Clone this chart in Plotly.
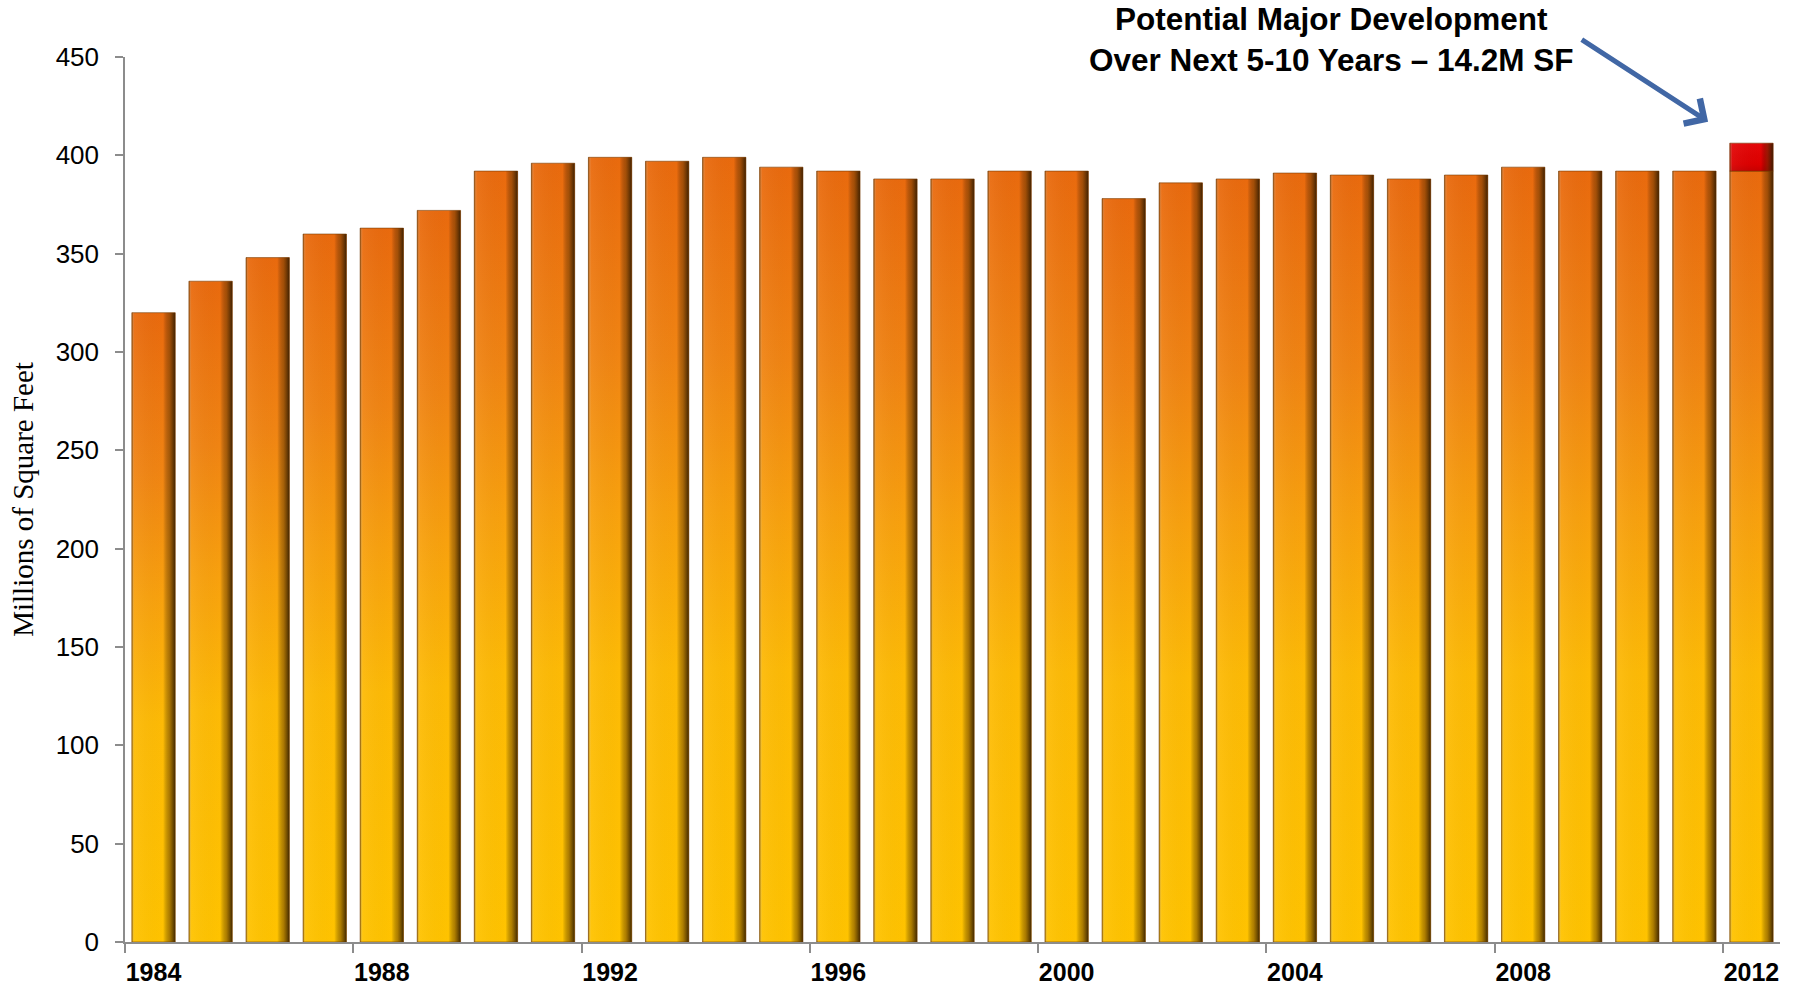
import plotly.graph_objects as go

# Total inventory (millions of square feet) by year
years = list(range(1984, 2013))
inventory = [320, 336, 348, 360, 363, 372, 392, 396, 399, 397,
             399, 394, 392, 388, 388, 392, 392, 378, 386, 388,
             391, 390, 388, 390, 394, 392, 392, 392, 392]

# Potential development stacked on the latest year
pipeline_year = 2012
pipeline_msf = 14.2

tick_years = [1984, 1988, 1992, 1996, 2000, 2004, 2008, 2012]
tick_labels = [str(y) for y in tick_years]

BAR_HALF = 0.38

body_scale = [
    [0.0, "#FFC300"],
    [0.35, "#FDBA06"],
    [0.55, "#F8A10E"],
    [0.75, "#F08413"],
    [1.0, "#E96A0E"],
]
red_scale = [[0.0, "#C80000"], [0.25, "#DC0000"], [1.0, "#E40808"]]
edge_shade = [
    [0.0, "rgba(90,55,0,0.55)"],
    [0.06, "rgba(255,255,255,0.05)"],
    [0.72, "rgba(0,0,0,0)"],
    [0.86, "rgba(80,45,0,0.45)"],
    [1.0, "rgba(45,25,0,0.9)"],
]

fig = go.Figure()


def add_column(x, y0, y1, scale):
    xs = [x - BAR_HALF, x + BAR_HALF, x + BAR_HALF, x - BAR_HALF, x - BAR_HALF]
    ys = [y0, y0, y1, y1, y0]
    fig.add_trace(go.Scatter(
        x=xs, y=ys, mode="lines", fill="toself",
        fillgradient=dict(type="vertical", colorscale=scale),
        line=dict(width=0), hoverinfo="skip", showlegend=False,
    ))
    fig.add_trace(go.Scatter(
        x=xs, y=ys, mode="lines", fill="toself",
        fillgradient=dict(type="horizontal", colorscale=edge_shade),
        line=dict(width=1, color="rgba(110,55,0,0.55)"),
        hoverinfo="skip", showlegend=False,
    ))


for yr, val in zip(years, inventory):
    add_column(yr, 0, val, body_scale)

base = inventory[years.index(pipeline_year)]
add_column(pipeline_year, base, base + pipeline_msf, red_scale)

fig.add_annotation(
    text="<b>Potential Major Development<br>Over Next 5-10 Years – 14.2M SF</b>",
    xref="paper", yref="paper", x=0.7287, y=1.02,
    xanchor="center", yanchor="middle", showarrow=False, align="center",
    font=dict(family="Arial, Liberation Sans, sans-serif", size=31.5, color="black"),
)
fig.add_annotation(
    text="", xref="x", yref="y", axref="x", ayref="y",
    x=2011.24, y=417.1, ax=2009.0, ay=459.3,
    showarrow=True, arrowhead=4, arrowsize=1.15, arrowwidth=5,
    arrowcolor="#4167A5", standoff=0, startstandoff=0,
)

fig.update_layout(
    width=1801, height=991,
    margin=dict(l=125, r=21, t=57, b=49),
    paper_bgcolor="white", plot_bgcolor="white",
    showlegend=False,
    xaxis=dict(
        range=[1983.5, 2012.5], showgrid=False, zeroline=False,
        automargin=False,
        showline=True, linecolor="#8C8C8C", linewidth=1.5,
        tickmode="array", tickvals=tick_years, ticktext=tick_labels,
        ticks="", tickfont=dict(family="Arial, Liberation Sans, sans-serif",
                                size=25, color="black", weight="bold"),
        ticklabelstandoff=7,
        minor=dict(tickmode="array",
                   tickvals=[y - 0.5 for y in tick_years],
                   ticks="outside", ticklen=9, tickcolor="#8C8C8C",
                   tickwidth=1.5, showgrid=False),
    ),
    yaxis=dict(
        range=[0, 450], showgrid=False, zeroline=False,
        automargin=False,
        showline=True, linecolor="#8C8C8C", linewidth=1.5,
        tickmode="array", tickvals=list(range(0, 451, 50)),
        ticks="outside", ticklen=8, tickcolor="#8C8C8C", tickwidth=1.5,
        tickfont=dict(family="Arial, Liberation Sans, sans-serif",
                      size=26, color="black"),
        ticklabelstandoff=11,
        title=dict(text="Millions of Square Feet", standoff=14,
                   font=dict(family="Times New Roman, Liberation Serif, serif",
                             size=29, color="black")),
    ),
)

fig.write_html("out.html")
